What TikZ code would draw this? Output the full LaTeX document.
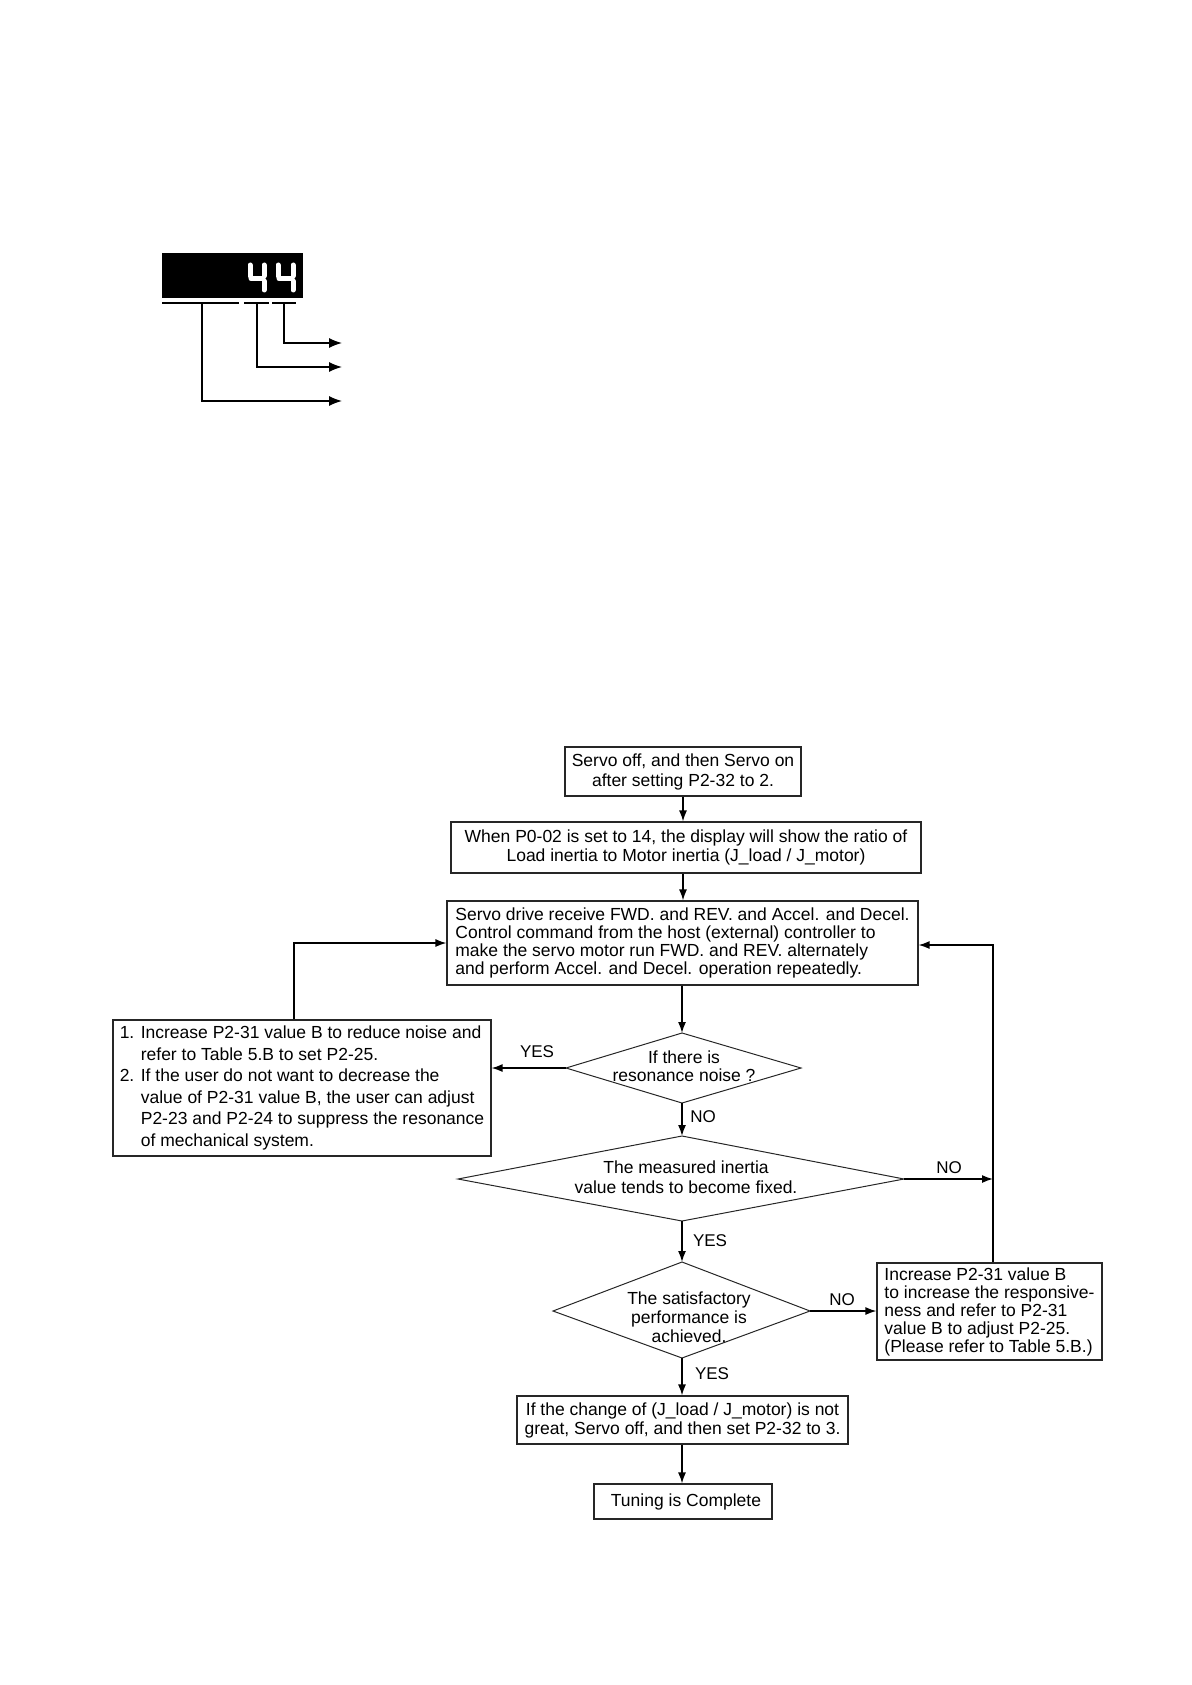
\documentclass[tikz,border=0pt]{standalone}
\usepackage{fontspec}
\setmainfont{Liberation Sans}
\usetikzlibrary{arrows.meta}
\begin{document}
\begin{tikzpicture}[x=1pt,y=-1pt,
  box/.style={draw=black!85, line width=1.1pt, rectangle, inner sep=0pt, align=center},
  txt/.style={inner sep=0pt, align=center},
  arr/.style={line width=1.5pt, -{Latex[length=11pt,width=8pt]}},
  ptr/.style={line width=1.4pt, -{Latex[length=13pt,width=10pt]}},
  ln/.style={line width=1.6pt},
  lbl/.style={inner sep=0pt, font=\fontsize{17}{19}\selectfont},
  dia/.style={draw=black!85, line width=1pt},
  seg/.style={white, line width=5pt, line cap=round}
]
\useasboundingbox (0,0) rectangle (1191,1685);

% ---------- display ----------
\node[fill=black, minimum width=141pt, minimum height=45pt, inner sep=0pt] (disp) at (232.5,275.5) {};
% digit 1
\draw[seg] (250,265) -- (250,276);
\draw[seg] (251,278.5) -- (263,278.5);
\draw[seg] (264,265) -- (264,276);
\draw[seg] (264,281) -- (264,290);
% digit 2
\draw[seg] (278,265) -- (278,276);
\draw[seg] (279,278.5) -- (292,278.5);
\draw[seg] (293,265) -- (293,276);
\draw[seg] (293,281) -- (293,290);
% underlines
\draw[ln] (162,303) -- (239,303);
\draw[ln] (244,303) -- (269,303);
\draw[ln] (272,303) -- (296,303);
\coordinate (t1) at (342,343);
\coordinate (t2) at (342,367);
\coordinate (t3) at (342,401);
\draw[ptr] (284,303) |- (t1);
\draw[ptr] (257,303) |- (t2);
\draw[ptr] (202,303) |- (t3);

% ---------- flowchart boxes ----------
\node[box, minimum width=236pt, minimum height=49pt, font=\fontsize{17.5}{20}\selectfont] (b1) at (683,771.5)
  {Servo off, and then Servo on\\after setting P2-32 to 2.};
\node[box, minimum width=470pt, minimum height=51pt, font=\fontsize{17.5}{19}\selectfont] (b2) at (686,847.5)
  {When P0-02 is set to 14, the display will show the ratio of\\Load inertia to Motor inertia (J\_load / J\_motor)};
\node[box, minimum width=471pt, minimum height=84pt, align=left, font=\fontsize{17.5}{18.3}\selectfont] (b3) at (682.5,943)
  {Servo drive receive FWD. and REV. and Accel. and Decel.\\
   Control command from the host (external) controller to\\
   make the servo motor run FWD. and REV. alternately\\
   and perform Accel. and Decel. operation repeatedly.};
\node[box, minimum width=378pt, minimum height=136pt, align=left, font=\fontsize{17.5}{21.6}\selectfont] (lb) at (302,1088)
  {1. Increase P2-31 value B to reduce noise and\\
   \hphantom{1. }refer to Table 5.B to set P2-25.\\
   2. If the user do not want to decrease the\\
   \hphantom{2. }value of P2-31 value B, the user can adjust\\
   \hphantom{2. }P2-23 and P2-24 to suppress the resonance\\
   \hphantom{2. }of mechanical system.};
\node[box, minimum width=225pt, minimum height=97pt, align=left, font=\fontsize{17.5}{18}\selectfont] (rb) at (989.5,1311.5)
  {Increase P2-31 value B\\
   to increase the responsive-\\
   ness and refer to P2-31\\
   value B to adjust P2-25.\\
   (Please refer to Table 5.B.)};
\node[box, minimum width=331pt, minimum height=48pt, font=\fontsize{17.5}{19}\selectfont] (b6) at (682.5,1420)
  {If the change of (J\_load / J\_motor) is not\\great, Servo off, and then set P2-32 to 3.};
\node[box, minimum width=178pt, minimum height=35pt, font=\fontsize{17.5}{19}\selectfont] (b7) at (683,1501.5)
  {\hspace*{6pt}Tuning is Complete};

% ---------- diamonds ----------
\coordinate (d1n) at (682,1033); \coordinate (d1e) at (801,1068);
\coordinate (d1s) at (682,1103); \coordinate (d1w) at (566,1068);
\draw[dia] (d1n) -- (d1e) -- (d1s) -- (d1w) -- cycle;
\node[txt, font=\fontsize{17.5}{18}\selectfont] (d1) at (684,1066) {If there is\\resonance noise ?};

\coordinate (d2n) at (682,1136); \coordinate (d2e) at (904,1179);
\coordinate (d2s) at (682,1221); \coordinate (d2w) at (458,1179);
\draw[dia] (d2n) -- (d2e) -- (d2s) -- (d2w) -- cycle;
\node[txt, font=\fontsize{17.5}{20}\selectfont] (d2) at (686,1177) {The measured inertia\\value tends to become fixed.};

\coordinate (d3n) at (682,1262); \coordinate (d3e) at (810,1311);
\coordinate (d3s) at (682,1358); \coordinate (d3w) at (553,1311);
\draw[dia] (d3n) -- (d3e) -- (d3s) -- (d3w) -- cycle;
\node[txt, font=\fontsize{17.5}{19}\selectfont] (d3) at (689,1317) {The satisfactory\\performance is\\achieved.};

% ---------- connectors ----------
\draw[arr] (b1.south) -- (b1.south |- b2.north);
\draw[arr] (b2.south -| b1.south) -- (b1.south |- b3.north);
\draw[arr] (b3.south -| d1n) -- (d1n);
\draw[arr] (d1w) -- (lb.east |- d1w);
\draw[arr] (d1s) -- (d2n);
\draw[arr] (d2s) -- (d3n);
\draw[arr] (d3s) -- (d3s |- b6.north);
\draw[arr] (b6.south -| d3s) -- (d3s |- b7.north);
\draw[arr] ([xshift=-8pt]lb.north) |- (b3.west);
\coordinate (rbt) at ([xshift=3.5pt]rb.north);
\draw[arr] (rbt) |- ([yshift=-2pt]b3.east);
\draw[arr] (d2e) -- (d2e -| rbt);
\draw[arr] (d3e) -- (rb.west |- d3e);

% ---------- labels ----------
\node[lbl] (y1) at (537,1052) {YES};
\node[lbl] (n1) at (703,1117) {NO};
\node[lbl] (n2) at (949,1168) {NO};
\node[lbl] (y2) at (710,1241) {YES};
\node[lbl] (n3) at (842,1300) {NO};
\node[lbl] (y3) at (712,1374) {YES};
\end{tikzpicture}
\end{document}
